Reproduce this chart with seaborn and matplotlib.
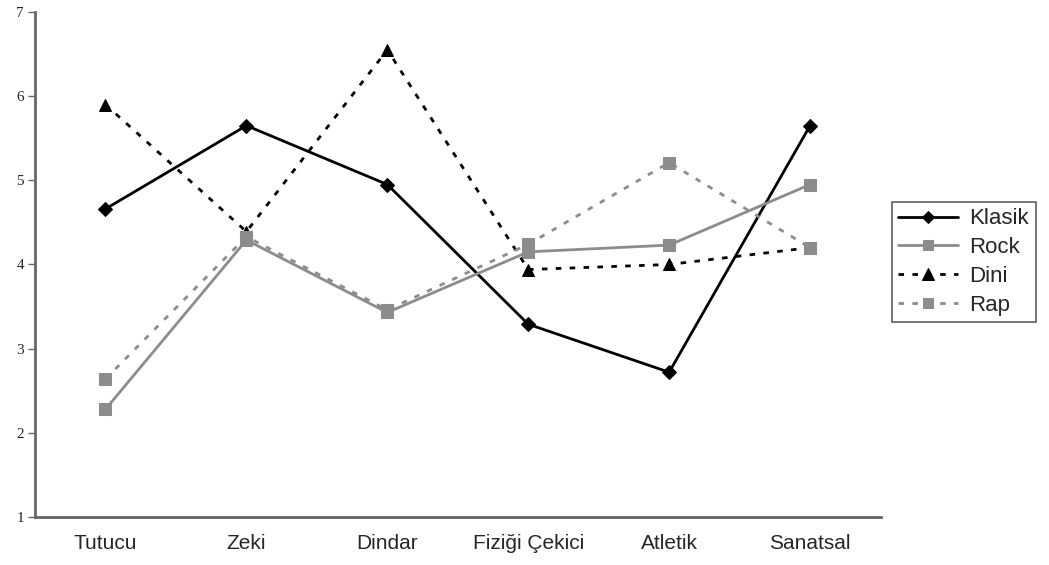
import matplotlib
matplotlib.use("Agg")
import matplotlib.pyplot as plt
import seaborn as sns
import pandas as pd
import numpy as np

categories = ["Tutucu", "Zeki", "Dindar", "Fiziği Çekici", "Atletik", "Sanatsal"]
klasik = [4.66, 5.65, 4.95, 3.29, 2.72, 5.65]
rock = [2.28, 4.29, 3.43, 4.15, 4.23, 4.95]
dini = [5.90, 4.39, 6.55, 3.94, 4.00, 4.20]
rap = [2.64, 4.33, 3.46, 4.24, 5.21, 4.20]

series = {"Klasik": klasik, "Rock": rock, "Dini": dini, "Rap": rap}
styles = {
    "Klasik": dict(color="black", marker="D", ls="-", ms=7),
    "Rock": dict(color="#8c8c8c", marker="s", ls="-", ms=8),
    "Dini": dict(color="black", marker="^", ls=(0, (2, 3)), ms=9),
    "Rap": dict(color="#8c8c8c", marker="s", ls=(0, (2, 3)), ms=8),
}

sns.set_style("white")
plt.rcParams["font.family"] = ["Liberation Sans", "DejaVu Sans"]

fig = plt.figure(figsize=(10.49, 5.65), dpi=100)
ax = fig.add_axes([0.0334, 0.085, 0.806, 0.8938])

x = np.arange(len(categories))
for name, vals in series.items():
    st = styles[name]
    df = pd.DataFrame({"x": x, "y": vals})
    sns.lineplot(data=df, x="x", y="y", ax=ax, color=st["color"], marker=st["marker"],
                 markersize=st["ms"], markeredgecolor=st["color"], markerfacecolor=st["color"],
                 linestyle=st["ls"], linewidth=2, label=name)

ax.set_xlim(-0.5, len(categories) - 0.5)
ax.set_ylim(1, 7)
ax.set_xlabel("")
ax.set_ylabel("")

ax.set_xticks(x)
ax.set_xticklabels(categories, fontsize=15)
ax.set_xticks(np.arange(-0.5, len(categories)), minor=True)
ax.tick_params(axis="x", which="major", length=0, pad=12)
ax.tick_params(axis="x", which="minor", length=5, width=1, color="#666666", direction="out")

ax.set_yticks(range(1, 8))
ax.set_yticklabels([str(v) for v in range(1, 8)], fontsize=11, family="Liberation Serif")
ax.tick_params(axis="y", length=5, width=1, color="#666666", direction="out", left=True, pad=3)

for side in ("top", "right"):
    ax.spines[side].set_visible(False)
for side in ("left", "bottom"):
    ax.spines[side].set_color("#666666")
    ax.spines[side].set_linewidth(2)

leg = ax.legend(loc="center left", bbox_to_anchor=(1.013, 0.505), fontsize=16,
                frameon=True, fancybox=False, handlelength=2.7, handletextpad=0.5,
                labelspacing=0.35, borderpad=0.3, borderaxespad=0, markerscale=0.9)
leg.get_frame().set_edgecolor("#333333")
leg.get_frame().set_linewidth(1.2)

fig.savefig("out.png", dpi=100)
